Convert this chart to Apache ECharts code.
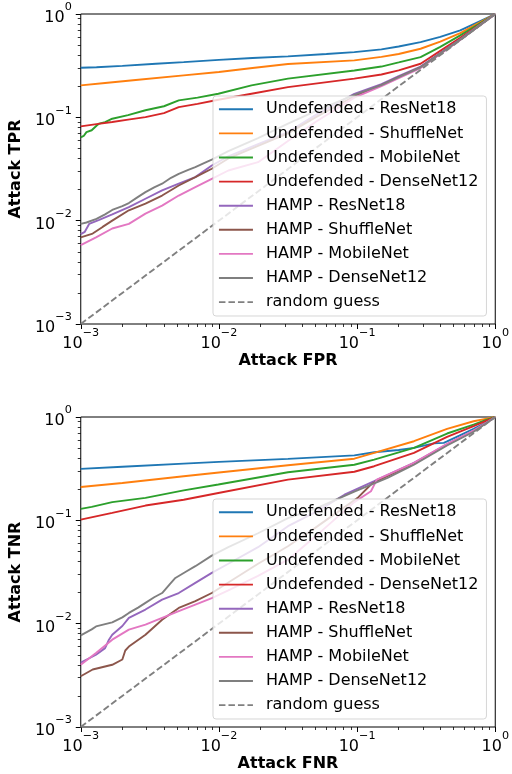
<!DOCTYPE html>
<html><head><meta charset="utf-8">
<script src="https://cdn.jsdelivr.net/npm/echarts@6/dist/echarts.min.js"></script>
<style>html,body{margin:0;padding:0;background:#fff}#c{width:512px;height:774px}</style>
</head><body><div id="c"></div>
<script>
// ---------- tick values ----------
const TICKS_MAJOR = [0.001, 0.01, 0.1, 1];
const TICKS_MINOR = [0.002,0.003,0.004,0.005,0.006,0.007,0.008,0.009,
                     0.02,0.03,0.04,0.05,0.06,0.07,0.08,0.09,
                     0.2,0.3,0.4,0.5,0.6,0.7,0.8,0.9];

// ---------- series names ----------
const NAMES = ['Undefended - ResNet18','Undefended - ShuffleNet','Undefended - MobileNet','Undefended - DenseNet12',
               'HAMP - ResNet18','HAMP - ShuffleNet','HAMP - MobileNet','HAMP - DenseNet12','random guess'];

// ---------- top panel: [Attack FPR, Attack TPR] ----------
const topUndResNet18 = [[0.001,0.302],[0.0013,0.305],[0.002,0.315],[0.0035,0.33],[0.00556,0.342],[0.01,0.36],[0.0175,0.375],[0.0316,0.389],[0.06,0.41],[0.0955,0.428],[0.15,0.455],[0.2,0.485],[0.288,0.535],[0.4,0.6],[0.558,0.694],[0.75,0.835],[1,1]];
const topUndShuffleNet = [[0.001,0.204],[0.0015,0.215],[0.0025,0.23],[0.00556,0.255],[0.01,0.275],[0.0175,0.3],[0.0316,0.328],[0.0955,0.356],[0.15,0.385],[0.2,0.41],[0.288,0.461],[0.4,0.54],[0.558,0.653],[0.75,0.81],[1,1]];
const topUndMobileNet = [[0.001,0.064],[0.00105,0.066],[0.0011,0.072],[0.0012,0.075],[0.0013,0.083],[0.00136,0.087],[0.0015,0.09],[0.00169,0.097],[0.0022,0.105],[0.00294,0.117],[0.004,0.128],[0.00512,0.146],[0.007,0.155],[0.0099,0.169],[0.0172,0.204],[0.0316,0.237],[0.0955,0.284],[0.15,0.31],[0.2,0.34],[0.288,0.383],[0.4,0.48],[0.558,0.621],[0.75,0.79],[1,1]];
const topUndDenseNet12 = [[0.001,0.0817],[0.0013,0.086],[0.00169,0.09],[0.0022,0.095],[0.00294,0.1005],[0.004,0.11],[0.00512,0.1256],[0.007,0.135],[0.0099,0.148],[0.0172,0.169],[0.0316,0.196],[0.0955,0.237],[0.15,0.26],[0.2,0.285],[0.288,0.33],[0.4,0.44],[0.558,0.59],[0.75,0.77],[1,1]];
const topHampResNet18 = [[0.001,0.0074],[0.00107,0.0078],[0.00115,0.0093],[0.00136,0.0102],[0.00169,0.0115],[0.00223,0.0135],[0.00294,0.0163],[0.00388,0.0196],[0.00512,0.0228],[0.00675,0.0264],[0.00888,0.0342],[0.0117,0.042],[0.0192,0.055],[0.0316,0.072],[0.05,0.105],[0.0955,0.169],[0.15,0.21],[0.2,0.25],[0.288,0.31],[0.4,0.42],[0.558,0.57],[0.75,0.76],[1,1]];
const topHampShuffleNet = [[0.001,0.0069],[0.00122,0.0075],[0.00144,0.0087],[0.00169,0.01],[0.00223,0.0126],[0.00294,0.0146],[0.00388,0.0175],[0.00512,0.0219],[0.00675,0.0264],[0.00888,0.0318],[0.0117,0.04],[0.0192,0.053],[0.0316,0.07],[0.05,0.1],[0.0955,0.16],[0.15,0.205],[0.2,0.245],[0.288,0.305],[0.4,0.415],[0.558,0.565],[0.75,0.755],[1,1]];
const topHampMobileNet = [[0.001,0.0058],[0.00129,0.0069],[0.00169,0.0084],[0.00223,0.0093],[0.00294,0.0117],[0.00388,0.014],[0.00512,0.0175],[0.00675,0.0211],[0.00888,0.0254],[0.0117,0.0306],[0.0192,0.0368],[0.0316,0.059],[0.05,0.09],[0.0955,0.155],[0.15,0.2],[0.2,0.24],[0.288,0.3],[0.4,0.41],[0.558,0.562],[0.75,0.755],[1,1]];
const topHampDenseNet12 = [[0.001,0.0093],[0.0011,0.0096],[0.0013,0.0104],[0.0015,0.0115],[0.00169,0.0127],[0.002,0.0138],[0.00223,0.0148],[0.0026,0.017],[0.00294,0.0189],[0.0034,0.021],[0.00388,0.0228],[0.0045,0.026],[0.00512,0.0284],[0.006,0.031],[0.00675,0.033],[0.0078,0.036],[0.00888,0.0389],[0.0117,0.047],[0.0192,0.063],[0.0316,0.087],[0.05,0.115],[0.0955,0.165],[0.15,0.205],[0.2,0.245],[0.288,0.305],[0.4,0.415],[0.558,0.565],[0.75,0.755],[1,1]];
const topRandom = [[0.001,0.001],[1,1]];

// ---------- bottom panel: [Attack FNR, Attack TNR] ----------
const botUndResNet18 = [[0.001,0.315],[0.002,0.33],[0.00556,0.354],[0.01,0.368],[0.0316,0.393],[0.0955,0.425],[0.133,0.456],[0.2,0.48],[0.258,0.502],[0.359,0.555],[0.424,0.562],[0.448,0.58],[0.55,0.66],[0.697,0.77],[0.85,0.88],[1,1]];
const botUndShuffleNet = [[0.001,0.21],[0.002,0.23],[0.00556,0.267],[0.01,0.29],[0.0316,0.341],[0.0955,0.395],[0.133,0.449],[0.258,0.583],[0.448,0.767],[0.697,0.91],[0.85,0.96],[1,1]];
const botUndMobileNet = [[0.001,0.129],[0.0012,0.135],[0.00169,0.15],[0.00294,0.165],[0.00556,0.195],[0.0099,0.222],[0.0316,0.292],[0.0955,0.345],[0.133,0.387],[0.258,0.502],[0.448,0.692],[0.697,0.843],[0.85,0.93],[1,1]];
const botUndDenseNet12 = [[0.001,0.1016],[0.00169,0.118],[0.00294,0.139],[0.00556,0.158],[0.0099,0.184],[0.0316,0.248],[0.0955,0.295],[0.133,0.334],[0.258,0.449],[0.448,0.641],[0.697,0.815],[0.85,0.91],[1,1]];
const botHampResNet18 = [[0.001,0.0042],[0.00129,0.005],[0.0015,0.0058],[0.0016,0.007],[0.00169,0.0078],[0.002,0.0095],[0.00223,0.0114],[0.00294,0.0137],[0.00388,0.0171],[0.00512,0.0198],[0.00675,0.0248],[0.00888,0.031],[0.0117,0.038],[0.0192,0.055],[0.0316,0.0878],[0.05,0.12],[0.081,0.177],[0.133,0.239],[0.258,0.36],[0.448,0.545],[0.697,0.735],[0.85,0.87],[1,1]];
const botHampShuffleNet = [[0.001,0.0031],[0.00122,0.0036],[0.00169,0.004],[0.002,0.0045],[0.0021,0.0055],[0.00223,0.006],[0.00294,0.0078],[0.00388,0.0109],[0.00512,0.0142],[0.00675,0.0165],[0.00888,0.0198],[0.0117,0.025],[0.0192,0.038],[0.0316,0.0561],[0.05,0.085],[0.101,0.165],[0.126,0.222],[0.139,0.24],[0.258,0.355],[0.448,0.54],[0.697,0.73],[0.85,0.865],[1,1]];
const botHampMobileNet = [[0.001,0.004],[0.00129,0.0052],[0.00169,0.007],[0.00223,0.00875],[0.00294,0.0098],[0.00388,0.0114],[0.00512,0.0132],[0.00675,0.0153],[0.00888,0.0177],[0.0117,0.021],[0.0192,0.029],[0.0316,0.0416],[0.05,0.07],[0.0955,0.15],[0.126,0.191],[0.139,0.248],[0.258,0.36],[0.448,0.55],[0.697,0.74],[0.85,0.87],[1,1]];
const botHampDenseNet12 = [[0.001,0.0077],[0.0012,0.0088],[0.00129,0.0094],[0.00169,0.0103],[0.002,0.0115],[0.00223,0.0127],[0.0026,0.0143],[0.00294,0.0159],[0.0034,0.018],[0.00388,0.0198],[0.0044,0.024],[0.00484,0.0277],[0.0058,0.032],[0.00675,0.036],[0.00888,0.0455],[0.0117,0.055],[0.0192,0.075],[0.0316,0.105],[0.05,0.13],[0.0955,0.19],[0.166,0.257],[0.258,0.345],[0.448,0.53],[0.697,0.72],[0.85,0.86],[1,1]];
const botRandom = [[0.001,0.001],[1,1]];

const topData = [topUndResNet18, topUndShuffleNet, topUndMobileNet, topUndDenseNet12, topHampResNet18, topHampShuffleNet, topHampMobileNet, topHampDenseNet12, topRandom];
const botData = [botUndResNet18, botUndShuffleNet, botUndMobileNet, botUndDenseNet12, botHampResNet18, botHampShuffleNet, botHampMobileNet, botHampDenseNet12, botRandom];

// ---------- styling ----------
const COLORS = ['#1f77b4','#ff7f0e','#2ca02c','#d62728','#9467bd','#8c564b','#e377c2','#7f7f7f','#808080'];
const FONT = 'DejaVu Sans';

function expLabel(v) {
  const e = Math.round(Math.log10(v));
  return '{b|10}{s|' + (e < 0 ? '\u2212' + (-e) : String(e)) + '}';
}
const RICH = {
  b: {fontFamily: FONT, fontSize: 16, lineHeight: 24, verticalAlign: 'bottom', color: '#000'},
  s: {fontFamily: FONT, fontSize: 11.2, lineHeight: 11, verticalAlign: 'top', color: '#000'}
};
const NAME_STYLE = {fontFamily: FONT, fontSize: 16, fontWeight: 'bold', color: '#000'};

function mainAxis(dim, grid, name) {
  const isX = dim === 'x';
  return {
    type: 'log', logBase: 10, gridIndex: grid, min: 0.001, max: 1,
    position: isX ? 'bottom' : 'left',
    name: name, nameLocation: 'middle', nameGap: isX ? 27 : 46, nameRotate: isX ? 0 : 90,
    nameTextStyle: NAME_STYLE,
    axisLine: {show: false},
    splitLine: {show: false},
    minorTick: {show: false},
    axisTick: {show: true, length: 5, customValues: TICKS_MAJOR, lineStyle: {color: '#000', width: 1}},
    axisLabel: {show: true, customValues: TICKS_MAJOR, formatter: expLabel, rich: RICH, margin: isX ? 4 : 9,
                fontFamily: FONT, fontSize: 16, color: '#000', hideOverlap: false}
  };
}
function minorAxis(dim, grid) {
  const isX = dim === 'x';
  return {
    type: 'log', logBase: 10, gridIndex: grid, min: 0.001, max: 1,
    position: isX ? 'bottom' : 'left',
    axisLine: {show: false}, splitLine: {show: false}, axisLabel: {show: false},
    axisTick: {show: true, length: 3, customValues: TICKS_MINOR, lineStyle: {color: '#000', width: 0.8}}
  };
}
function legend(top) {
  return {
    orient: 'vertical', left: 213, top: top,
    padding: [5.3, 8, 5.9, 5],
    itemWidth: 34, itemHeight: 16, itemGap: 8.1,
    backgroundColor: 'rgba(255,255,255,0.8)',
    borderColor: 'rgba(204,204,204,0.8)', borderWidth: 1, borderRadius: 3,
    itemStyle: {opacity: 0},
    lineStyle: {width: 1.9},
    textStyle: {fontFamily: FONT, fontSize: 16, color: '#000', padding: [0, 0, 0, 8], lineHeight: 16},
    selectedMode: false,
    data: NAMES
  };
}
function makeSeries(dataList, axisIdx) {
  return dataList.map((d, i) => ({
    type: 'line', name: NAMES[i], data: d,
    xAxisIndex: axisIdx, yAxisIndex: axisIdx,
    symbol: 'none', smooth: false, clip: true,
    lineStyle: {color: COLORS[i], width: 1.9, type: i === 8 ? [6.5, 3] : 'solid'},
    itemStyle: {color: COLORS[i]},
    z: 2 + i * 0.01
  }));
}

const gridBase = {left: 80, width: 416, height: 310, show: true, borderColor: '#000', borderWidth: 1, backgroundColor: 'transparent', containLabel: false};

const option = {
  animation: false,
  backgroundColor: '#fff',
  grid: [Object.assign({top: 14}, gridBase), Object.assign({top: 417}, gridBase)],
  xAxis: [mainAxis('x', 0, 'Attack FPR'), mainAxis('x', 1, 'Attack FNR'), minorAxis('x', 0), minorAxis('x', 1)],
  yAxis: [mainAxis('y', 0, 'Attack TPR'), mainAxis('y', 1, 'Attack TNR'), minorAxis('y', 0), minorAxis('y', 1)],
  legend: [legend(96), legend(499)],
  series: makeSeries(topData, 0).concat(makeSeries(botData, 1))
};

const chart = echarts.init(document.getElementById('c'), null, {renderer: 'canvas'});
chart.setOption(option);
</script>
</body></html>
